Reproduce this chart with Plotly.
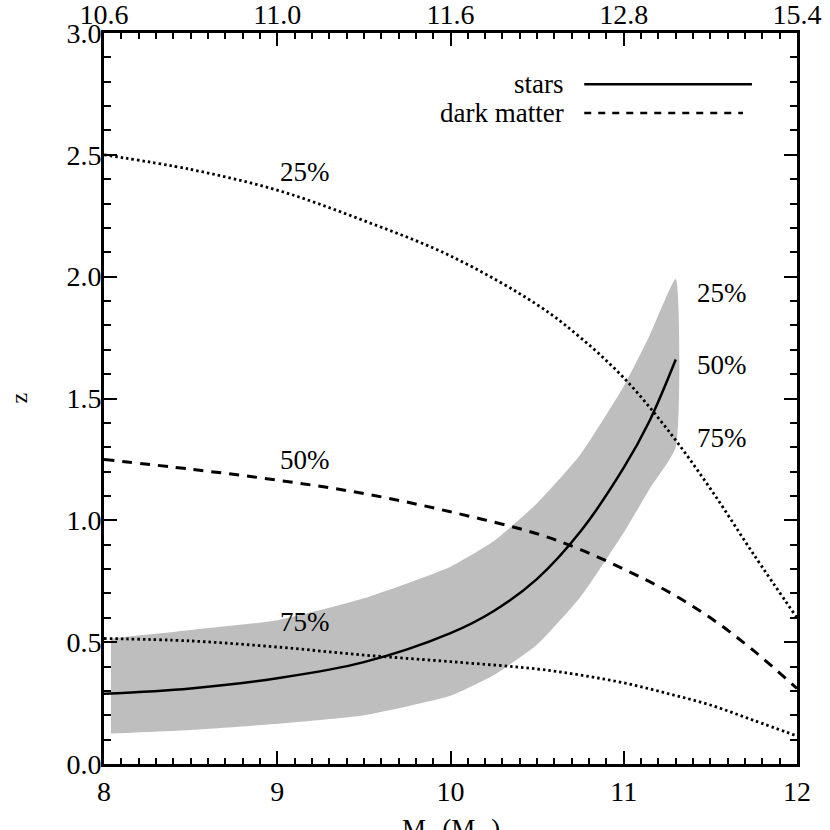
import plotly.graph_objects as go

# log stellar mass grid for the dark matter curves
dm_mass = [8.0, 8.5, 9.0, 9.5, 10.0, 10.5, 10.75, 11.0, 11.25, 11.5, 11.75, 12.0]
dm_25 = [2.50, 2.44, 2.355, 2.23, 2.085, 1.885, 1.75, 1.585, 1.375, 1.13, 0.86, 0.60]
dm_50 = [1.25, 1.21, 1.165, 1.11, 1.035, 0.945, 0.88, 0.80, 0.71, 0.60, 0.465, 0.31]
dm_75 = [0.515, 0.505, 0.48, 0.447, 0.42, 0.39, 0.365, 0.333, 0.29, 0.242, 0.179, 0.115]

# stars: median and the shaded 25-75% range
star_mass = [8.0, 8.5, 9.0, 9.5, 10.0, 10.25, 10.5, 10.75, 11.0, 11.15, 11.3]
star_50 = [0.288, 0.31, 0.352, 0.418, 0.537, 0.628, 0.76, 0.954, 1.216, 1.41, 1.66]
band_mass = [8.04, 8.5, 9.0, 9.5, 10.0, 10.25, 10.5, 10.75, 11.0, 11.15, 11.3]
band_hi = [0.515, 0.55, 0.59, 0.68, 0.81, 0.915, 1.07, 1.27, 1.55, 1.76, 1.99]
band_lo = [0.125, 0.14, 0.165, 0.20, 0.28, 0.365, 0.49, 0.685, 0.95, 1.13, 1.30]

bottom_ticks = [8, 9, 10, 11, 12]
top_labels = ['10.6', '11.0', '11.6', '12.8', '15.4']

FONT = 'Liberation Serif'

fig = go.Figure()

fig.add_trace(go.Scatter(
    x=band_mass + band_mass[::-1], y=band_hi + band_lo[::-1],
    fill='toself', fillcolor='#bebebe', mode='lines',
    line=dict(width=0, color='#bebebe', shape='spline', smoothing=0.5),
    hoverinfo='skip', showlegend=False))

fig.add_trace(go.Scatter(x=dm_mass, y=dm_25, mode='lines',
                         line=dict(color='black', width=2.8, dash='2.5px,3px', shape='spline'),
                         showlegend=False))
fig.add_trace(go.Scatter(x=dm_mass, y=dm_75, mode='lines',
                         line=dict(color='black', width=2.8, dash='2.5px,3px', shape='spline'),
                         showlegend=False))
fig.add_trace(go.Scatter(x=dm_mass, y=dm_50, mode='lines',
                         line=dict(color='black', width=3, dash='10px,8px', shape='spline'),
                         showlegend=False))
fig.add_trace(go.Scatter(x=star_mass, y=star_50, mode='lines',
                         line=dict(color='black', width=2.5, shape='spline'),
                         showlegend=False))

# dummy trace so the top axis is drawn
fig.add_trace(go.Scatter(x=[8, 12], y=[0, 0], xaxis='x2', mode='markers',
                         marker=dict(opacity=0), hoverinfo='skip', showlegend=False))

# percentile labels
left_labels = [('25%', 2.43), ('50%', 1.247), ('75%', 0.582)]
for txt, yy in left_labels:
    fig.add_annotation(x=9.16, y=yy, text=txt, showarrow=False, yanchor='middle',
                       font=dict(family=FONT, size=27, color='black'))
right_labels = [('25%', 1.933), ('50%', 1.637), ('75%', 1.337)]
for txt, yy in right_labels:
    fig.add_annotation(x=11.41, y=yy, text=txt, showarrow=False, xanchor='left', yanchor='middle',
                       font=dict(family=FONT, size=27, color='black'))

# legend, text left of the sample line
fig.add_annotation(xref='paper', yref='paper', x=0.667, y=0.930, text='stars',
                   showarrow=False, xanchor='right', yanchor='middle',
                   font=dict(family=FONT, size=27, color='black'))
fig.add_annotation(xref='paper', yref='paper', x=0.667, y=0.8906, text='dark matter',
                   showarrow=False, xanchor='right', yanchor='middle',
                   font=dict(family=FONT, size=27, color='black'))
fig.add_shape(type='line', xref='paper', yref='paper', x0=0.693, x1=0.935, y0=0.930, y1=0.930,
              line=dict(color='black', width=2.5))
fig.add_shape(type='line', xref='paper', yref='paper', x0=0.693, x1=0.922, y0=0.8906, y1=0.8906,
              line=dict(color='black', width=2.5, dash='7px,7px'))

# axis titles
fig.add_annotation(xref='x', yref='paper', x=10, y=-0.092, yanchor='middle',
                   text='M<sub>*</sub> (M<sub>⊙</sub>)', showarrow=False,
                   font=dict(family=FONT, size=27, color='black'))
fig.add_annotation(xref='paper', yref='y', x=-0.124, y=1.5, text='z', textangle=-90,
                   showarrow=False, xanchor='center', yanchor='middle',
                   font=dict(family=FONT, size=24, color='black'))

axis_common = dict(showgrid=False, zeroline=False, showline=True, linecolor='black', linewidth=3,
                   ticks='inside', tickcolor='black', tickwidth=2, ticklen=13, automargin=False,
                   tickfont=dict(family=FONT, size=28, color='black'))
minor_x = dict(dtick=0.1, ticks='inside', ticklen=6, tickwidth=2, tickcolor='black')

fig.update_layout(
    width=830, height=830,
    margin=dict(l=104, r=33, t=33, b=66),
    plot_bgcolor='white', paper_bgcolor='white',
    font=dict(family=FONT, color='black'),
    xaxis=dict(range=[8, 12], tickvals=bottom_ticks, minor=minor_x, **axis_common),
    xaxis2=dict(range=[8, 12], overlaying='x', side='top', tickvals=bottom_ticks, ticktext=top_labels,
                minor=minor_x, ticklabelstandoff=-5, **axis_common),
    yaxis=dict(range=[0, 3], tickvals=[0, 0.5, 1.0, 1.5, 2.0, 2.5, 3.0], tickformat='.1f', mirror='ticks',
               minor=dict(dtick=0.1, ticks='inside', ticklen=7, tickwidth=2, tickcolor='black'),
               ticklabelstandoff=-6, **axis_common),
)

# drop the default 8px page margin so the figure sits at the window corner
fig.write_html("out.html", config={'displayModeBar': False},
               post_script="document.body.style.margin='0';")
